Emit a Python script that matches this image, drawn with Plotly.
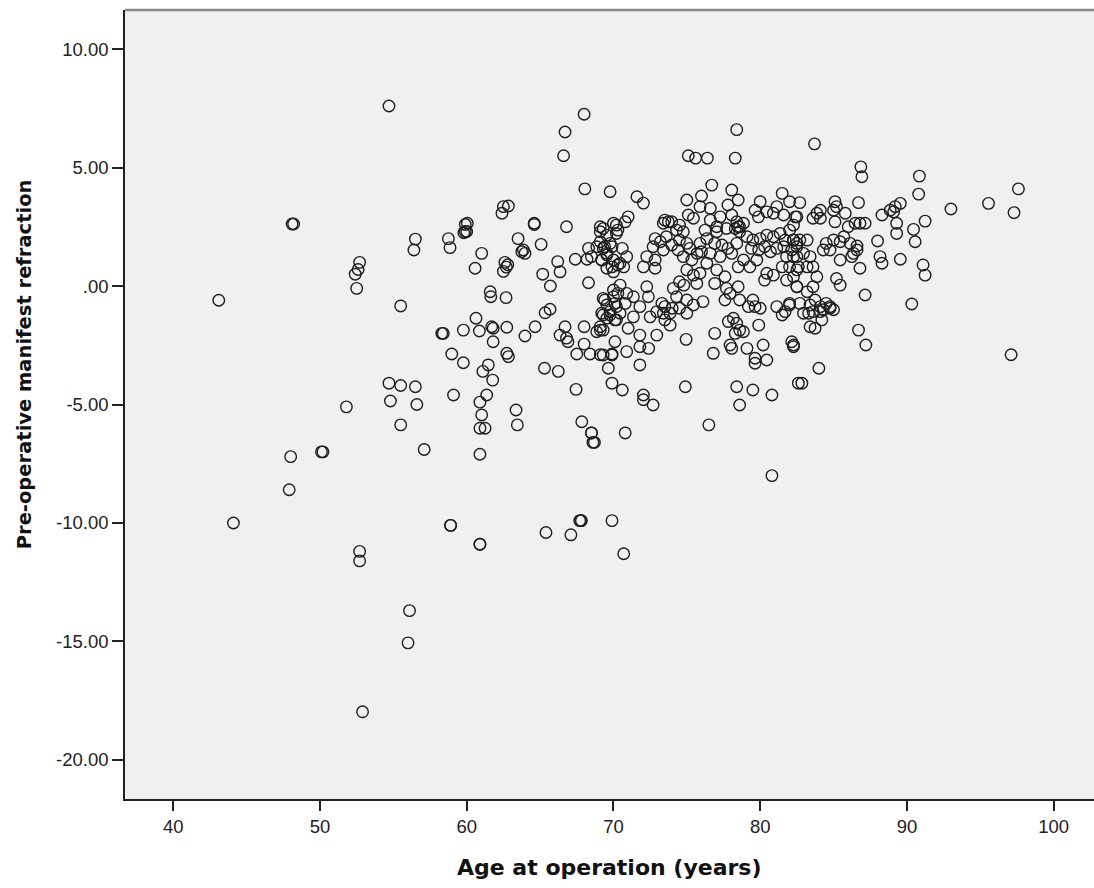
import plotly.graph_objects as go

# Age at operation (years)
age = [
    43.1, 44.1, 48.0, 47.9, 48.1, 48.2, 50.1, 50.2, 51.8, 52.4, 52.6, 52.7, 52.5,
    52.7, 52.7, 52.9, 54.7, 54.7, 54.8, 55.5, 55.5, 55.5, 56.1, 56.0, 56.5, 56.4,
    56.5, 56.6, 57.1, 58.3, 58.75, 58.86, 58.98, 59.1, 58.9, 59.77, 59.8, 60.04,
    59.9, 60.57, 61.02, 60.63, 59.77, 60.86, 61.7, 61.8, 62.73, 58.4, 60.9, 60.9,
    61.6, 61.64, 62.68, 61.47, 61.1, 61.77, 61.8, 62.73, 62.84, 61.36, 60.9, 61.02,
    60.9, 61.25, 62.5, 62.84, 62.4, 62.6, 62.7, 62.5, 62.8, 63.5, 63.86, 63.97,
    63.75, 64.6, 64.6, 65.07, 65.18, 65.7, 64.66, 63.97, 63.36, 63.45, 65.68, 65.34,
    65.3, 66.24, 66.2, 66.36, 66.8, 66.7, 66.36, 66.8, 66.9, 67.4, 68.2, 65.4,
    66.6, 66.7, 67.1, 67.45, 67.7, 67.8, 67.84, 68.0, 68.05, 68.0, 68.0, 67.5,
    68.4, 69.1, 69.9, 68.3, 68.5, 68.6, 68.3, 68.86, 69.3, 69.77, 69.55, 68.5,
    69.2, 69.9, 70.3, 69.1, 70.0, 70.2, 69.4, 70.0, 70.3, 69.2, 69.77, 69.55,
    70.1, 69.1, 68.86, 69.3, 69.77, 71.6, 72.04, 76.7, 78.06, 78.5, 81.5, 75.0,
    76.0, 75.9, 76.6, 77.8, 78.06, 78.4, 78.6, 78.3, 80.0, 79.65, 80.45, 79.88,
    81.13, 80.9, 81.6, 82.4, 82.0, 71.0, 70.8, 70.2, 70.3, 69.3, 69.1, 69.55,
    69.1, 69.4, 69.9, 70.6, 70.9, 70.45, 70.7, 70.0, 69.55, 69.2, 69.55, 70.0,
    73.5, 73.74, 73.97, 73.4, 74.5, 74.3, 74.76, 75.1, 75.45, 76.6, 77.27, 77.04,
    77.7, 72.84, 73.2, 72.7, 73.6, 73.97, 73.4, 72.27, 72.84, 72.04, 72.84, 74.5,
    75.0, 74.4, 75.2, 74.76, 75.34, 75.7, 75.9, 76.36, 76.24, 76.0, 76.6, 76.36,
    76.9, 77.04, 77.4, 77.8, 78.06, 77.27, 78.4, 78.5, 78.86, 78.6, 79.1, 79.5,
    80.0, 80.45, 80.9, 81.36, 81.7, 82.27, 79.4, 79.9, 80.3, 80.7, 81.13, 81.6,
    82.15, 82.5, 82.5, 81.8, 79.77, 78.86, 78.5, 79.3, 77.04, 77.6, 76.9, 77.7,
    77.95, 78.5, 77.6, 78.6, 79.5, 79.2, 80.0, 81.13, 81.7, 80.9, 81.5, 80.45,
    80.3, 81.8, 82.5, 82.5, 75.9, 75.0, 75.45, 74.5, 74.8, 74.08, 75.68, 74.3,
    75.0, 75.45, 74.5, 73.5, 73.86, 72.95, 71.8, 72.38, 71.36, 72.27, 70.9, 70.45,
    70.0, 69.3, 69.55, 70.2, 69.77, 70.45, 71.36, 72.5, 70.1, 70.8, 73.3, 74.0,
    75.0, 76.1, 79.65, 81.5, 82.0, 69.3, 70.2, 69.1, 71.0, 71.8, 72.95, 73.5,
    73.86, 73.4, 70.1, 69.3, 69.9, 70.9, 71.8, 72.4, 71.8, 69.65, 69.9, 70.6,
    72.04, 72.04, 72.7, 70.8, 74.95, 74.9, 76.5, 76.9, 76.8, 77.83, 78.17, 78.4,
    78.6, 78.3, 78.86, 79.9, 77.95, 78.06, 79.1, 80.2, 79.65, 79.65, 80.45, 78.4,
    79.5, 78.6, 80.8, 82.15, 82.27, 82.6, 68.5, 68.7, 82.0, 82.7, 83.4, 84.1,
    84.76, 84.3, 83.3, 83.6, 83.4, 83.74, 84.2, 82.27, 86.7, 87.2, 84.0, 82.84,
    87.15, 90.33, 86.86, 86.93, 90.85, 90.8, 82.7, 85.1, 85.2, 85.0, 84.1, 83.86,
    83.6, 84.1, 85.8, 85.1, 82.5, 82.27, 82.0, 86.7, 86.47, 86.8, 87.15, 88.3,
    88.86, 89.2, 89.55, 89.1, 89.3, 89.3, 93.0, 95.56, 91.24, 90.45, 90.56, 88.0,
    86.6, 86.36, 88.17, 88.3, 89.55, 86.8, 91.1, 91.24, 82.27, 82.7, 83.2, 82.5,
    82.95, 83.4, 82.27, 82.0, 82.6, 83.2, 83.6, 83.86, 82.27, 85.0, 84.5, 85.45,
    84.3, 84.76, 85.45, 85.2, 85.45, 82.5, 83.2, 83.6, 83.74, 84.5, 84.76, 82.95,
    85.0, 84.1, 86.0, 85.7, 86.13, 86.6, 86.24, 97.1, 97.6, 97.3, 78.4, 83.7,
    75.1, 75.6, 76.4, 78.3, 80.8, 69.9, 67.8, 70.7, 60.9, 58.9, 60.0, 59.9,
]

# Pre-operative manifest refraction
refraction = [
    -0.6, -10.0, -7.2, -8.6, 2.62, 2.62, -7.0, -7.0, -5.1, 0.5, 0.7, 1.0, -0.1,
    -11.2, -11.6, -17.97, 7.6, -4.1, -4.85, -0.84, -4.2, -5.86, -13.7, -15.06, 1.98, 1.52,
    -4.25, -5.0, -6.9, -2.0, 2.0, 1.62, -2.87, -4.6, -10.1, -3.24, 2.25, 2.65,
    2.3, 0.75, 1.38, -1.36, -1.86, -1.9, -1.72, -1.78, -1.74, -2.0, -7.1, -10.9,
    -0.24, -0.45, -0.49, -3.33, -3.6, -3.97, -2.35, -2.84, -2.98, -4.6, -4.9, -5.44,
    -6.0, -6.0, 3.35, 3.38, 3.07, 1.0, 0.8, 0.62, 0.9, 2.0, 1.52, 1.38,
    1.45, 2.65, 2.6, 1.76, 0.5, 0.0, -1.72, -2.11, -5.23, -5.86, -0.98, -1.13,
    -3.47, -3.6, 1.03, 0.6, 2.5, -1.72, -2.07, -2.2, -2.35, 1.13, 1.13, -10.4,
    5.5, 6.5, -10.5, -4.36, -9.9, -9.9, -5.73, 7.25, 4.1, -1.72, -2.45, -2.87,
    -2.87, -2.9, -2.87, 0.14, -6.2, -6.6, 1.59, 1.66, 1.59, 1.8, 1.38, 1.24,
    1.1, 0.81, 0.89, 2.5, 2.65, 2.22, -0.59, -0.45, -0.31, -1.15, -1.08, -1.36,
    -1.43, -1.72, -1.93, -1.86, 3.98, 3.77, 3.5, 4.26, 4.05, 3.63, 3.91, 3.63,
    3.8, 3.35, 3.28, 3.42, 3.0, 2.71, 2.5, 2.43, 3.56, 3.2, 3.13, 2.92,
    3.35, 3.07, 3.0, 2.92, 3.56, 2.92, 2.71, 2.57, 2.36, 2.43, 2.29, 2.15,
    1.87, 1.66, 1.66, 1.59, 1.24, 0.96, 0.81, 1.1, 1.31, 1.1, 0.75, 0.6,
    2.78, 2.71, 2.71, 2.65, 2.57, 2.36, 2.29, 3.0, 2.86, 2.78, 2.92, 2.5,
    2.43, 2.0, 1.87, 1.66, 2.08, 1.73, 1.52, 1.24, 1.1, 0.81, 0.75, 1.94,
    1.8, 1.52, 1.59, 1.24, 1.1, 1.38, 1.8, 2.0, 2.36, 1.45, 1.38, 0.96,
    1.8, 2.29, 1.73, 1.59, 1.38, 1.24, 1.8, 2.5, 2.65, 2.29, 2.08, 1.94,
    2.0, 2.15, 2.08, 2.22, 1.94, 1.94, 1.59, 1.52, 1.66, 1.45, 1.59, 1.66,
    1.52, 1.8, 1.24, 1.24, 1.1, 1.1, 0.81, 0.81, 0.68, 0.39, 0.11, -0.1,
    -0.31, -0.03, -0.59, -0.59, -0.59, -0.87, -0.94, -0.87, -1.08, 0.46, 0.81, 0.54,
    0.25, 0.25, 0.68, -0.03, 0.54, 0.68, 0.46, 0.18, 0.04, -0.1, 0.11, -0.45,
    -0.59, -0.8, -0.94, -0.87, -1.15, -1.08, -0.87, -0.45, -0.45, -0.03, -0.31, 0.04,
    -0.17, -0.52, -0.8, -0.87, -1.22, -1.15, -1.3, -1.3, -0.73, -0.73, -0.73, -0.94,
    -1.15, -0.66, -0.87, -1.22, -0.8, -1.22, -1.43, -1.86, -1.78, -2.07, -2.07, -1.43,
    -1.65, -1.15, -2.35, -2.91, -2.91, -2.77, -2.56, -2.63, -3.33, -3.47, -4.1, -4.39,
    -4.6, -4.8, -5.02, -6.2, -2.25, -4.25, -5.86, -2.0, -2.84, -1.5, -1.36, -1.57,
    -1.86, -2.0, -1.93, -1.65, -2.49, -2.63, -2.63, -2.49, -3.05, -3.26, -3.12, -4.25,
    -4.39, -5.02, -4.6, -2.35, -2.49, -4.1, -6.2, -6.6, -0.73, -0.73, -0.8, -0.87,
    -0.94, -1.0, -1.15, -1.08, -1.72, -1.78, -1.43, -2.56, -1.86, -2.49, -3.47, -4.1,
    -0.38, -0.76, 5.03, 4.61, 4.64, 3.88, 3.52, 3.56, 3.35, 3.2, 3.2, 3.07,
    2.86, 2.86, 3.07, 2.71, 2.92, 2.57, 2.36, 3.52, 2.65, 2.65, 2.65, 3.0,
    3.2, 3.35, 3.49, 3.13, 2.65, 2.22, 3.25, 3.49, 2.74, 2.39, 1.87, 1.9,
    1.69, 1.38, 1.24, 0.96, 1.13, 0.75, 0.89, 0.46, 1.94, 1.94, 1.94, 1.66,
    1.38, 1.24, 1.24, 0.81, 0.81, 0.81, 0.81, 0.39, 0.39, 1.94, 1.8, 1.87,
    1.52, 1.52, 1.1, 0.32, 0.04, -0.03, -0.24, -0.03, -0.59, -0.73, -0.87, -1.15,
    -1.0, -1.08, 2.5, 2.08, 1.8, 1.52, 1.24, -2.9, 4.1, 3.1, 6.6, 6.0,
    5.5, 5.4, 5.4, 5.4, -8.0, -9.9, -9.9, -11.3, -10.9, -10.1, 2.3, 2.6,
]

x_ticks = [40, 50, 60, 70, 80, 90, 100]
x_tick_labels = ["40", "50", "60", "70", "80", "90", "100"]
y_ticks = [10, 5, 0, -5, -10, -15, -20]
y_tick_labels = ["10.00", "5.00", ".00", "-5.00", "-10.00", "-15.00", "-20.00"]
x_title = "Age at operation (years)"
y_title = "Pre-operative manifest refraction"

n = min(len(age), len(refraction))

fig = go.Figure(
    go.Scatter(
        x=age[:n],
        y=refraction[:n],
        mode="markers",
        marker=dict(
            symbol="circle-open",
            size=11.5,
            color="#1e1e1e",
            line=dict(width=1.4, color="#1e1e1e"),
        ),
        hoverinfo="x+y",
    )
)

tick_font = dict(family="Liberation Sans, Arial, sans-serif", size=18.5, color="#222222")
title_family = "DejaVu Sans, Verdana, sans-serif"

fig.update_layout(
    width=1094,
    height=888,
    margin=dict(l=125, r=0, t=10, b=89),
    paper_bgcolor="white",
    plot_bgcolor="#F0F0F0",
    showlegend=False,
    xaxis=dict(
        range=[36.71, 102.75],
        tickvals=x_ticks,
        ticktext=x_tick_labels,
        ticks="outside",
        ticklen=10,
        tickwidth=1.5,
        tickcolor="#222222",
        showline=True,
        linecolor="#222222",
        linewidth=1.5,
        showgrid=False,
        zeroline=False,
        tickfont=tick_font,
    ),
    yaxis=dict(
        range=[-21.65, 11.65],
        tickvals=y_ticks,
        ticktext=y_tick_labels,
        ticks="outside",
        ticklen=11,
        tickwidth=1.5,
        tickcolor="#222222",
        showline=True,
        linecolor="#222222",
        linewidth=1.5,
        showgrid=False,
        zeroline=False,
        tickfont=tick_font,
    ),
    shapes=[
        dict(type="line", xref="paper", yref="paper", x0=0, x1=1, y0=1, y1=1,
             line=dict(color="#8a8a8a", width=2.5)),
    ],
    annotations=[
        dict(text="<b>" + x_title + "</b>", xref="paper", yref="paper",
             x=0.5, y=0, xanchor="center", yanchor="middle", yshift=-68,
             showarrow=False,
             font=dict(family=title_family, size=22, color="#111111")),
        dict(text="<b>" + y_title + "</b>", xref="paper", yref="paper",
             x=0, y=0.551, xanchor="center", yanchor="middle", xshift=-101,
             textangle=-90, showarrow=False,
             font=dict(family=title_family, size=19.5, color="#111111")),
    ],
)

fig.write_html("out.html", config={"displayModeBar": False})

# remove default page margin so the figure sits at the window origin
with open("out.html", "r", encoding="utf-8") as fh:
    html = fh.read()
html = html.replace("<body>", '<body style="margin:0;padding:0;overflow:hidden">', 1)
with open("out.html", "w", encoding="utf-8") as fh:
    fh.write(html)
